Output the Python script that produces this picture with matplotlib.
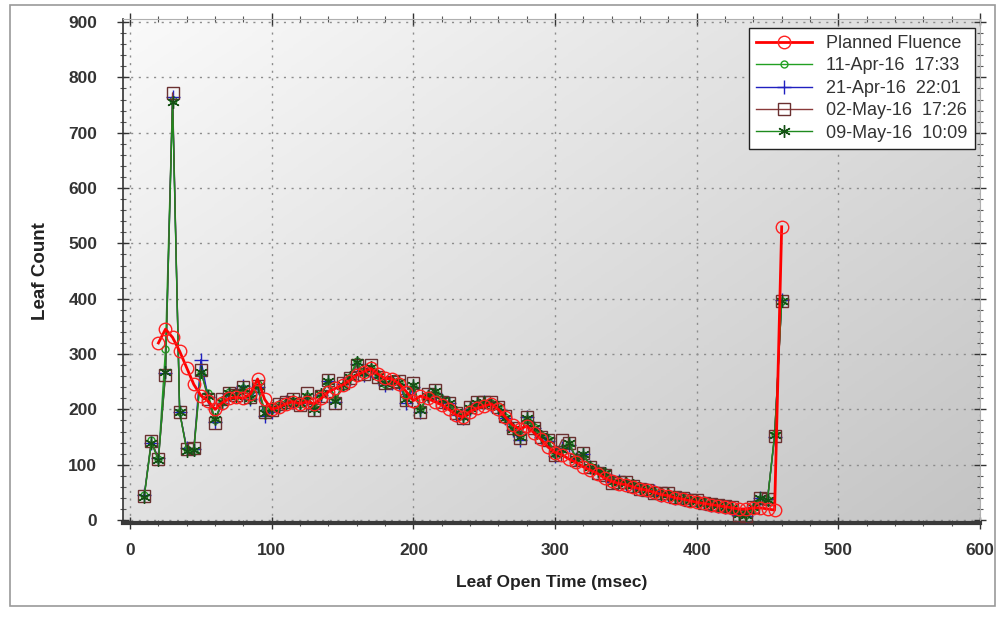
import numpy as np
import matplotlib
matplotlib.use("Agg")
import matplotlib.pyplot as plt
from matplotlib.patches import Rectangle
from matplotlib.ticker import MultipleLocator

plt.rcParams['font.family'] = ['Liberation Sans', 'DejaVu Sans']

# ---- data ----
x_measured = list(range(10, 465, 5))          # 10 .. 460 msec
x_planned = list(range(20, 465, 5))           # 20 .. 460 msec

planned = [320, 345, 330, 305, 275, 245, 225, 215, 200, 212,
           220, 222, 220, 228, 255, 218, 200, 204, 210, 214,
           210, 214, 210, 220, 232, 238, 244, 252, 262, 268,
           274, 264, 256, 255, 246, 232, 216, 224, 220, 214,
           208, 200, 190, 186, 196, 202, 206, 210, 200, 186,
           172, 164, 170, 158, 146, 132, 122, 118, 110, 104,
           96, 90, 84, 76, 70, 66, 64, 60, 56, 54,
           50, 46, 44, 40, 38, 35, 32, 30, 28, 26,
           24, 22, 20, 20, 22, 22, 20, 18, 530]

apr11 = [45, 145, 110, 310, 760, 195, 128, 125, 265, 230,
         180, 215, 232, 225, 238, 220, 245, 198, 200, 208,
         212, 216, 210, 225, 203, 228, 250, 218, 243, 258,
         288, 265, 275, 262, 246, 252, 250, 220, 243, 200,
         226, 232, 218, 210, 196, 188, 203, 210, 212, 212,
         206, 186, 166, 152, 182, 168, 153, 146, 120, 128,
         138, 112, 118, 97, 90, 86, 70, 68, 68, 64,
         58, 56, 50, 48, 47, 42, 40, 37, 35, 32,
         30, 27, 25, 22, 12, 10, 22, 38, 36, 155,
         395]

apr21 = [45, 140, 112, 265, 765, 195, 130, 128, 290, 222,
         178, 212, 228, 228, 242, 218, 240, 188, 195, 206,
         214, 214, 212, 220, 200, 226, 252, 214, 246, 255,
         282, 262, 272, 258, 244, 248, 246, 212, 240, 196,
         224, 230, 216, 212, 190, 184, 200, 212, 214, 208,
         200, 184, 162, 145, 186, 166, 150, 142, 115, 130,
         136, 110, 120, 95, 88, 84, 68, 70, 66, 62,
         56, 54, 52, 46, 46, 40, 38, 36, 34, 30,
         28, 26, 24, 20, 10, 8, 24, 40, 38, 150,
         398]

may02 = [43, 142, 110, 262, 772, 195, 128, 130, 272, 218,
         175, 218, 230, 226, 240, 222, 243, 196, 198, 210,
         213, 218, 208, 229, 199, 224, 253, 211, 248, 256,
         280, 264, 280, 259, 248, 250, 252, 217, 248, 195,
         228, 235, 214, 212, 194, 184, 205, 214, 214, 214,
         205, 188, 166, 148, 187, 166, 150, 145, 118, 145,
         140, 108, 121, 96, 85, 82, 67, 69, 69, 62,
         56, 54, 49, 49, 48, 41, 39, 36, 36, 31,
         29, 28, 25, 23, 9, 8, 24, 40, 38, 152,
         395]

may09 = [42, 140, 108, 268, 755, 195, 125, 127, 268, 224,
         182, 214, 230, 224, 239, 221, 242, 194, 202, 207,
         210, 217, 211, 224, 201, 227, 251, 216, 244, 259,
         286, 266, 276, 260, 247, 251, 249, 218, 244, 198,
         225, 233, 217, 211, 195, 186, 202, 211, 213, 210,
         204, 185, 165, 150, 184, 167, 152, 144, 119, 126,
         139, 111, 119, 96, 89, 85, 69, 68, 67, 63,
         57, 55, 51, 47, 47, 41, 39, 37, 35, 31,
         29, 27, 24, 21, 11, 9, 23, 39, 37, 153,
         396]

labels = ['Planned Fluence', '11-Apr-16  17:33', '21-Apr-16  22:01',
          '02-May-16  17:26', '09-May-16  10:09']

x_ticks = [0, 100, 200, 300, 400, 500, 600]
y_ticks = [0, 100, 200, 300, 400, 500, 600, 700, 800, 900]

# ---- figure ----
W, H = 1005, 617
fig = plt.figure(figsize=(W / 100, H / 100), dpi=100)
fig.patch.set_facecolor('white')
fig.patches.append(Rectangle((10 / W, 1 - 606 / H), 985 / W, 601 / H,
                             transform=fig.transFigure, fill=False,
                             edgecolor='#9a9a9a', linewidth=1.2))

ax_left, ax_right, ax_top, ax_bot = 123, 980, 19.3, 522.8
ax = fig.add_axes([ax_left / W, 1 - ax_bot / H,
                   (ax_right - ax_left) / W, (ax_bot - ax_top) / H])

# gradient background of plotting area (light top-left -> grey bottom-right)
gx, gy = np.meshgrid(np.linspace(0, 1, 200), np.linspace(0, 1, 200))
grad = 0.55 * gx + 0.45 * gy
ax.imshow(grad, extent=[0, 1, 0, 1], transform=ax.transAxes, origin='upper',
          cmap=matplotlib.colors.LinearSegmentedColormap.from_list(
              'g', ['#fafafa', '#c4c4c4']),
          aspect='auto', zorder=0, interpolation='bilinear')

ax.set_xlim(-5, 600)
ax.set_ylim(-5, 905)

ax.plot(x_measured, apr11, color='#22a022', lw=1.0, marker='o', ms=5,
        mfc='none', mec='#22a022', mew=1.0, label=labels[1], zorder=3)
ax.plot(x_measured, apr21, color='#2020c0', lw=1.0, marker='+', ms=10,
        mec='#2020c0', mew=1.0, label=labels[2], zorder=3)
ax.plot(x_measured, may02, color='#8a3a3a', lw=1.0, marker='s', ms=8,
        mfc='none', mec='#6a3030', mew=1.0, label=labels[3], zorder=3)
ax.plot(x_measured, may09, color='#1e8a1e', lw=1.0, marker=(6, 2, 0), ms=9,
        mec='#155015', mew=1.0, label=labels[4], zorder=3)
ax.plot(x_planned, planned, color='#ff0000', lw=2.0, marker='o', ms=9,
        mfc='none', mec='#ff2020', mew=1.0, label=labels[0], zorder=4)

ax.set_xticks(x_ticks)
ax.set_yticks(y_ticks)
ax.xaxis.set_minor_locator(MultipleLocator(20))
ax.yaxis.set_minor_locator(MultipleLocator(20))
ax.grid(True, which='major', color='#8c8c8c', linestyle=(0, (1.5, 4)),
        linewidth=1.0, zorder=1)
ax.set_axisbelow(True)

tick_font = dict(fontsize=12.5, fontweight='bold', color='#333333')
ax.set_xticklabels([str(v) for v in x_ticks], **tick_font)
ax.set_yticklabels([str(v) for v in y_ticks], **tick_font)
ax.tick_params(which='major', direction='inout', length=9, width=1,
               color='#333333', top=True, right=True)
ax.tick_params(which='minor', direction='inout', length=5, width=0.8,
               color='#555555', top=True, right=True)
ax.tick_params(axis='x', which='major', pad=10)
ax.tick_params(axis='y', which='major', pad=14)

for s in ['top', 'right']:
    ax.spines[s].set_color('#b0b0b0')
    ax.spines[s].set_linewidth(0.8)
ax.spines['left'].set_color('#333333')
ax.spines['left'].set_linewidth(1.2)
ax.spines['bottom'].set_color('#3a3a3a')
ax.spines['bottom'].set_linewidth(3.0)

ax.set_xlabel('Leaf Open Time (msec)', fontsize=12.5, fontweight='bold',
              color='#222222', labelpad=12)
ax.set_ylabel('Leaf Count', fontsize=13.5, fontweight='bold',
              color='#222222', labelpad=14)

handles, labs = ax.get_legend_handles_labels()
order = [4, 0, 1, 2, 3]
leg = ax.legend([handles[i] for i in order], [labs[i] for i in order],
                loc='upper right', bbox_to_anchor=(0.994, 0.983),
                fontsize=13, frameon=True, fancybox=False, framealpha=1,
                edgecolor='#222222', handlelength=3.1, handletextpad=0.8,
                labelspacing=0.3, borderpad=0.4, borderaxespad=0)
leg.get_frame().set_linewidth(1.0)
for t in leg.get_texts():
    t.set_color('#333333')

fig.savefig('out.png', dpi=100)
